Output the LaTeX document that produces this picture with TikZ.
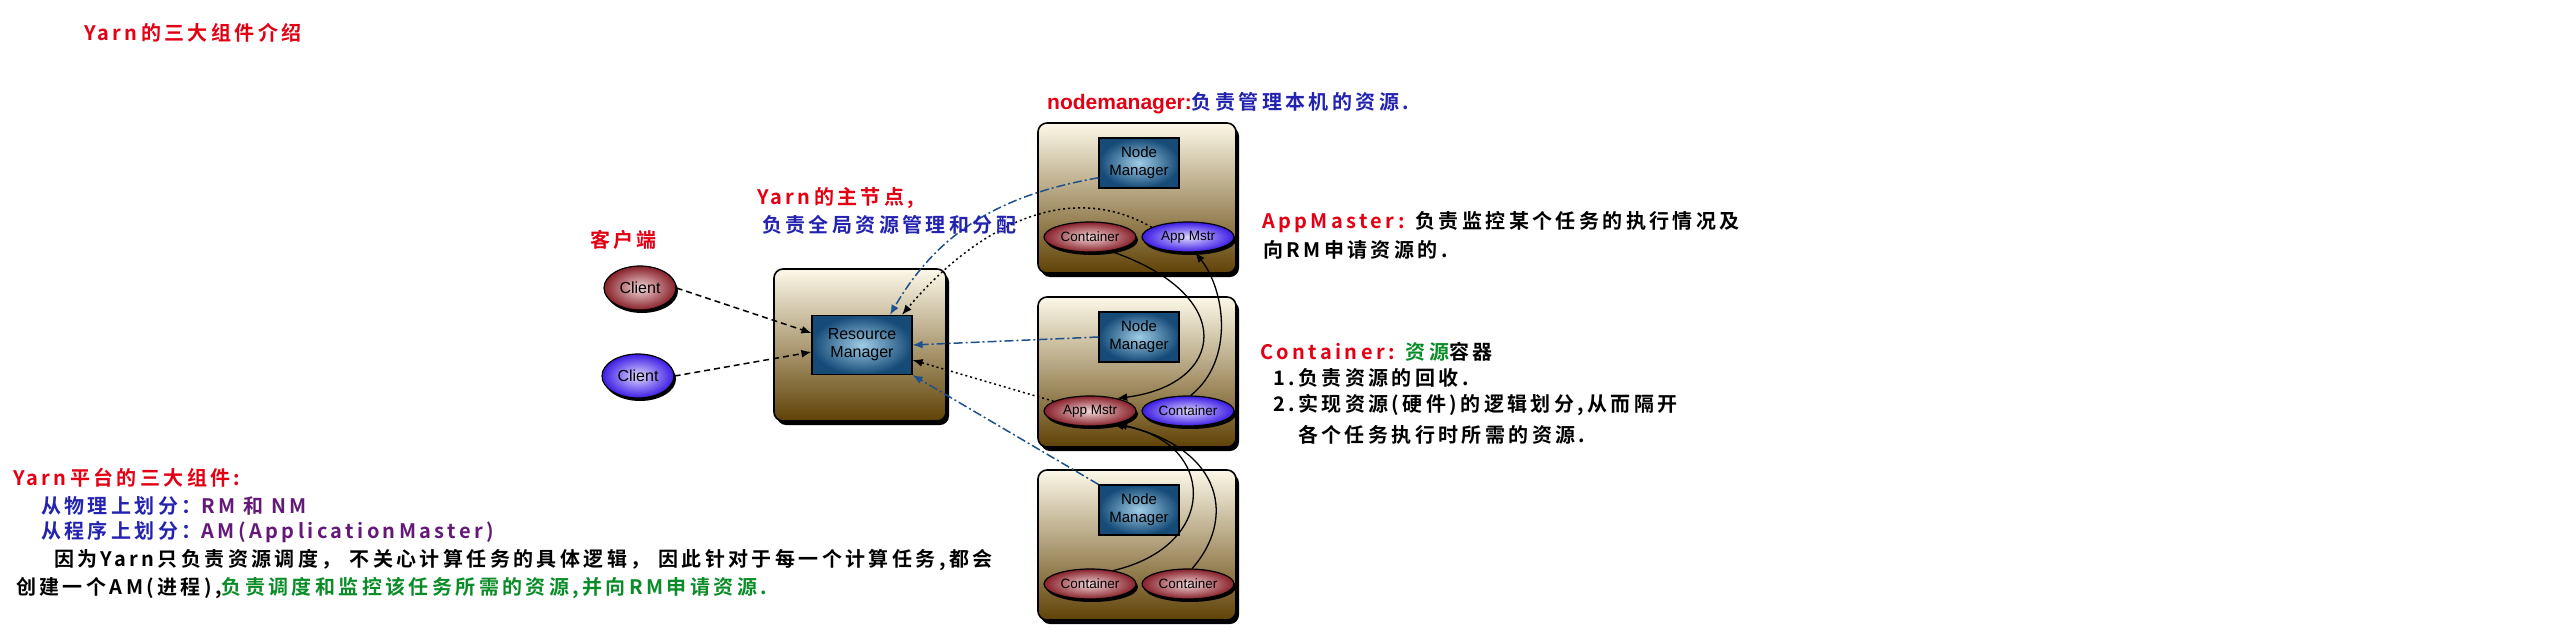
\documentclass[tikz,border=0pt]{standalone}
\usepackage{fontspec}
\setsansfont{Liberation Sans}
\newfontfamily\cjk{Noto Sans CJK SC}[LetterSpace=17,BoldFont={* Bold}]
\usepackage{xcolor}
\usetikzlibrary{arrows.meta,shapes.geometric,shadows}

\definecolor{txtred}{RGB}{228,0,20}
\definecolor{txtblue}{RGB}{35,35,175}
\definecolor{txtpurple}{RGB}{100,25,120}
\definecolor{txtgreen}{RGB}{10,140,40}
\definecolor{linkblue}{RGB}{30,80,140}
\definecolor{hosttop}{RGB}{252,248,232}
\definecolor{hostmid}{RGB}{172,138,62}
\definecolor{hostbot}{RGB}{96,66,6}
\definecolor{mgrin}{RGB}{160,205,230}
\definecolor{mgrout}{RGB}{22,75,120}
\definecolor{redin}{RGB}{242,215,215}
\definecolor{redout}{RGB}{135,32,42}
\definecolor{bluein}{RGB}{222,216,255}
\definecolor{blueout}{RGB}{60,28,228}

\tikzset{
  hostbox/.style={draw, line width=1.6pt, rounded corners=9pt,
    minimum width=198pt, minimum height=150pt,
    top color=hosttop, middle color=hostmid, bottom color=hostbot,
    drop shadow={shadow xshift=3pt, shadow yshift=-4pt, fill=black, opacity=1}},
  mgrbox/.style={draw, line width=1.2pt, inner color=mgrin, outer color=mgrout,
    minimum width=80pt, minimum height=50pt, inner sep=1pt, align=center,
    font=\sffamily\fontsize{15}{18}\selectfont},
  procell/.style={ellipse, draw, line width=1.2pt, minimum width=92pt, minimum height=30pt,
    inner sep=0pt, font=\sffamily\fontsize{13.5}{14}\selectfont,
    drop shadow={shadow xshift=2pt, shadow yshift=-3pt, fill=black, opacity=1}},
  redcell/.style={procell, inner color=redin, outer color=redout},
  bluecell/.style={procell, inner color=bluein, outer color=blueout},
  note/.style={anchor=west, inner sep=0pt, font=\cjk\bfseries\fontsize{20}{24}\selectfont},
  clientlink/.style={-{Latex[length=10pt,width=8pt]}, line width=1.5pt, dash pattern=on 6pt off 4pt},
  statuslink/.style={-{Latex[length=10pt,width=8pt]}, linkblue, line width=1.5pt,
    dash pattern=on 9pt off 3pt on 2pt off 3pt},
  reqlink/.style={-{Latex[length=10pt,width=8pt]}, line width=1.5pt, dash pattern=on 2pt off 3pt},
  runlink/.style={-{Latex[length=10pt,width=8pt]}, line width=1.3pt}
}

\begin{document}
\begin{tikzpicture}[x=1pt,y=-1pt]
\useasboundingbox (0,0) rectangle (2560,640);

% hosts
\node[hostbox, minimum width=172pt, minimum height=152pt] (rmhost) at (860,345) {};
\node[hostbox] (host1) at (1137,198) {};
\node[hostbox] (host2) at (1137,372) {};
\node[hostbox] (host3) at (1137,545) {};

% managers
\node[mgrbox, minimum width=100pt, minimum height=59pt, font=\sffamily\fontsize{16}{18}\selectfont] (rm) at (862,345) {Resource\\Manager};
\node[mgrbox] (nm1) at (1139,163) {Node\\Manager};
\node[mgrbox] (nm2) at (1139,337) {Node\\Manager};
\node[mgrbox] (nm3) at (1139,510) {Node\\Manager};

% clients
\node[redcell, minimum width=72pt, minimum height=44pt, font=\sffamily\fontsize{16}{18}\selectfont] (client1) at (640,288) {Client};
\node[bluecell, minimum width=72pt, minimum height=44pt, font=\sffamily\fontsize{16}{18}\selectfont] (client2) at (638,376) {Client};

% containers and app masters
\node[redcell] (ct1) at (1090,237) {Container};
\node[bluecell] (am1) at (1188,237) {App Mstr};
\node[redcell] (am2) at (1090,411) {App Mstr};
\node[bluecell] (ct2) at (1188,411) {Container};
\node[redcell] (ct3) at (1090,584) {Container};
\node[redcell] (ct4) at (1188,584) {Container};

% links
\draw[clientlink] (client1.east) -- ([yshift=12pt]rm.west);
\draw[clientlink] (client2.east) -- ([yshift=-7pt]rm.west);
\draw[statuslink] (nm1.200) to[out=190,in=60] ([xshift=28pt]rm.north);
\draw[statuslink] (nm2.west) -- (rm.east);
\draw[statuslink] (nm3.north west) -- (rm.south east);
\draw[reqlink] (am1.165) to[out=150,in=50] ([xshift=40pt]rm.north);
\draw[reqlink] (am2.165) -- ([yshift=-15pt]rm.east);
\draw[runlink] (ct1.-35) .. controls (1240,295) and (1225,385) .. (am2.25);
\draw[runlink] (ct2.80) .. controls (1235,360) and (1225,290) .. (am1.-65);
\draw[runlink] (ct3.30) .. controls (1222,545) and (1215,440) .. (am2.-30);
\draw[runlink] (ct4.75) .. controls (1235,520) and (1225,450) .. (am2.-25);

% texts
\node[note, txtred] (title) at (84,33) {Yarn的三大组件介绍};
\node[note, txtred] (clientlbl) at (590,240) {客户端};
\node[note, txtred] (rmlbl) at (757,198) {Yarn的主节点,};
\node[note, txtblue] (rmnote) at (762,225) {负责全局资源管理和分配};
\node[note] (nmnote) at (1047,103) {{\sffamily\bfseries\fontsize{21}{24}\selectfont\color{txtred}nodemanager:}\textcolor{txtblue}{负责管理本机的资源.}};
\node[note] (amnote) at (1262,222) {\textcolor{txtred}{AppMaster:} 负责监控某个任务的执行情况及};
\node[note] (amnote2) at (1263,250) {向RM申请资源的.};
\node[note] (ctnote) at (1260,352) {\textcolor{txtred}{Container:} \textcolor{txtgreen}{资源}容器};
\node[note] (ctnote1) at (1273,378) {1.负责资源的回收.};
\node[note] (ctnote2) at (1273,405) {2.实现资源(硬件)的逻辑划分,从而隔开};
\node[note] (ctnote3) at (1298,435) {各个任务执行时所需的资源.};

\node[note, txtred] (sumtitle) at (13,478) {Yarn平台的三大组件:};
\node[note, txtblue] (sum1) at (41,506) {从物理上划分：\textcolor{txtpurple}{RM 和 NM}};
\node[note, txtblue] (sum2) at (41,532) {从程序上划分：\textcolor{txtpurple}{AM(ApplicationMaster)}};
\node[note] (sum3) at (54,560) {因为Yarn只负责资源调度， 不关心计算任务的具体逻辑， 因此针对于每一个计算任务,都会};
\node[note] (sum4) at (16,588) {创建一个AM(进程),\textcolor{txtgreen}{负责调度和监控该任务所需的资源,并向RM申请资源.}};
\end{tikzpicture}
\end{document}
